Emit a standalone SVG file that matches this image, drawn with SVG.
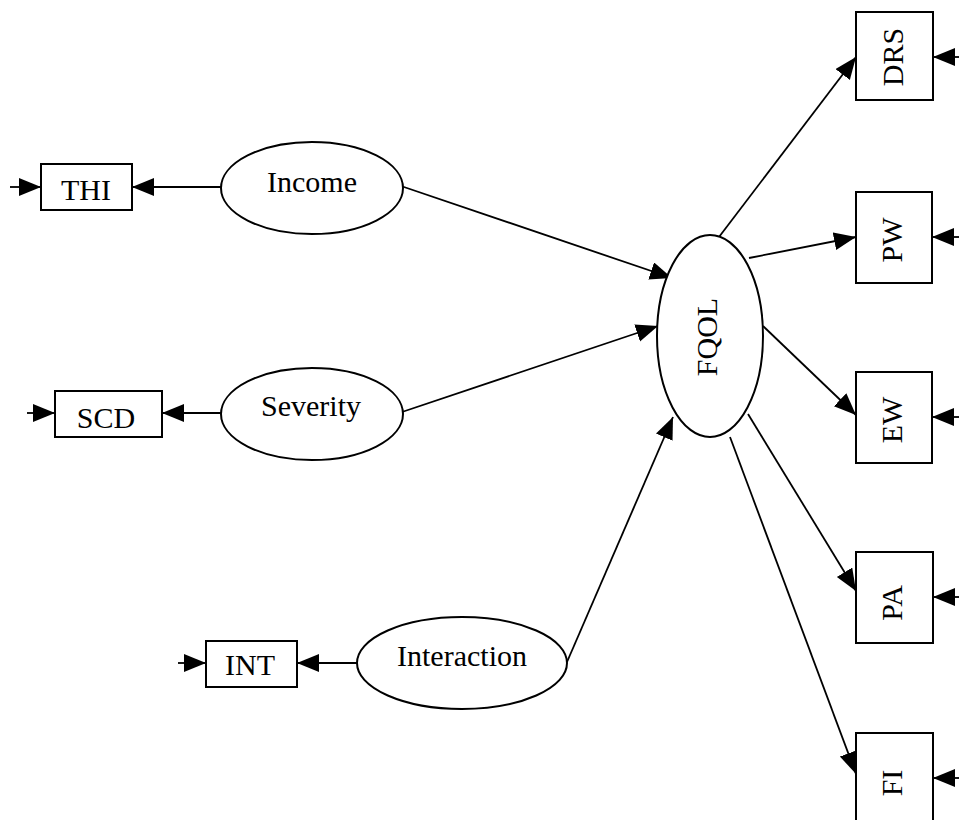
<svg xmlns="http://www.w3.org/2000/svg" width="959" height="820" viewBox="0 0 959 820">
<style>
.box{fill:#fff;stroke:#000;stroke-width:2}
.ell{fill:#fff;stroke:#000;stroke-width:2}
.lbl{font-family:"Liberation Serif","Times New Roman",serif;font-size:30px;fill:#000;text-anchor:middle}
.c line{stroke:#000;stroke-width:1.8;marker-end:url(#ah)}
</style>
<defs>
<marker id="ah" markerUnits="userSpaceOnUse" markerWidth="24" markerHeight="20" refX="22" refY="9" orient="auto">
<path d="M0,0 L22,9 L0,18 z" fill="#000"/>
</marker>
</defs>
<rect width="959" height="820" fill="#fff"/>
<g class="c" id="connectors">
<line x1="10" y1="187" x2="41" y2="187"/>
<line x1="221" y1="187" x2="132" y2="187"/>
<line x1="27" y1="413" x2="55" y2="413"/>
<line x1="221" y1="413" x2="162" y2="413"/>
<line x1="178" y1="663" x2="206" y2="663"/>
<line x1="357" y1="663" x2="297" y2="663"/>
<line x1="401" y1="186" x2="672" y2="278"/>
<line x1="402" y1="412" x2="658" y2="326"/>
<line x1="567" y1="662" x2="673" y2="417"/>
<line x1="719" y1="237" x2="856" y2="57"/>
<line x1="749" y1="258" x2="856" y2="237"/>
<line x1="763" y1="326" x2="856" y2="415"/>
<line x1="748" y1="414" x2="856" y2="591"/>
<line x1="730" y1="437" x2="856" y2="774"/>
<line x1="959" y1="57" x2="933" y2="57"/>
<line x1="959" y1="237" x2="932" y2="237"/>
<line x1="959" y1="417" x2="932" y2="417"/>
<line x1="959" y1="597" x2="933" y2="597"/>
<line x1="959" y1="778" x2="933" y2="778"/>
</g>
<g id="THI"><rect class="box" x="41" y="164" width="91" height="46"/><text class="lbl" x="86" y="200">THI</text></g>
<g id="SCD"><rect class="box" x="55" y="391" width="107" height="46"/><text class="lbl" x="106" y="428">SCD</text></g>
<g id="INT"><rect class="box" x="206" y="641" width="91" height="46"/><text class="lbl" x="250" y="675">INT</text></g>
<g id="Income"><ellipse class="ell" cx="312" cy="188" rx="91" ry="46"/><text class="lbl" x="312" y="192">Income</text></g>
<g id="Severity"><ellipse class="ell" cx="312" cy="414" rx="91" ry="46"/><text class="lbl" x="311" y="416">Severity</text></g>
<g id="Interaction"><ellipse class="ell" cx="462" cy="663" rx="105" ry="46"/><text class="lbl" x="462" y="666">Interaction</text></g>
<g id="FQOL"><ellipse class="ell" cx="710" cy="336" rx="53" ry="101"/><text class="lbl" transform="translate(717,337) rotate(-90)">FQOL</text></g>
<g id="DRS"><rect class="box" x="856" y="12" width="77" height="88"/><text class="lbl" transform="translate(903,57) rotate(-90)">DRS</text></g>
<g id="PW"><rect class="box" x="856" y="192" width="76" height="91"/><text class="lbl" transform="translate(902,240) rotate(-90)">PW</text></g>
<g id="EW"><rect class="box" x="856" y="372" width="76" height="91"/><text class="lbl" transform="translate(902,420) rotate(-90)">EW</text></g>
<g id="PA"><rect class="box" x="856" y="552" width="77" height="91"/><text class="lbl" transform="translate(902,603) rotate(-90)">PA</text></g>
<g id="FI"><rect class="box" x="856" y="733" width="77" height="100"/><text class="lbl" transform="translate(902,783) rotate(-90)">FI</text></g>
</svg>
